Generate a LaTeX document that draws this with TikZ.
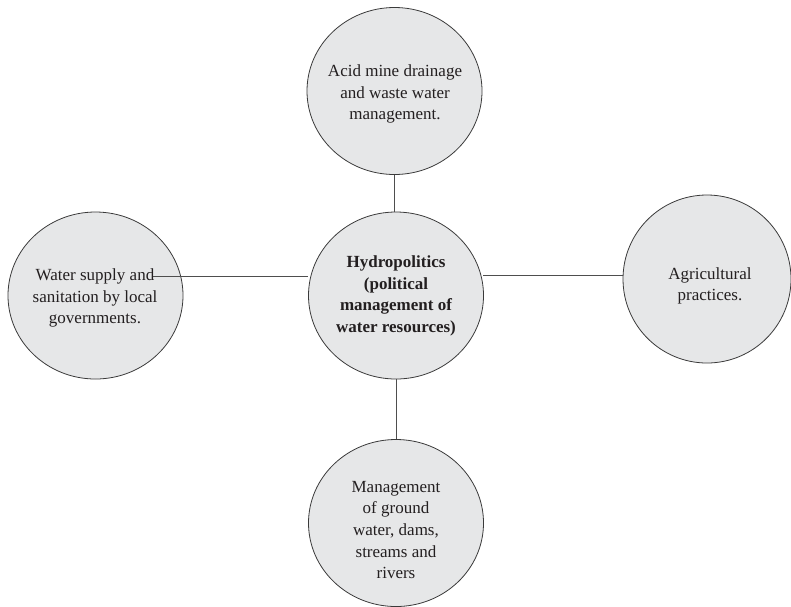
\documentclass[tikz,border=0pt]{standalone}
\usepackage{fontspec}
\setmainfont{Liberation Serif}
\usetikzlibrary{shapes.geometric}
\definecolor{bubble}{HTML}{E6E7E8}
\definecolor{rim}{HTML}{3A3A3A}
\definecolor{ink}{HTML}{231F20}
\tikzset{
  bubble/.style={ellipse, draw=rim, line width=0.8pt, fill=bubble, inner sep=0pt,
    minimum width=175pt, minimum height=167pt},
  txt/.style={text=ink, align=center, inner sep=0pt, font=\fontsize{17}{21.7}\selectfont},
  link/.style={draw=rim!90, line width=0.8pt}
}
\begin{document}
\begin{tikzpicture}[x=1pt,y=-1pt]
\useasboundingbox (0,0) rectangle (791,606);
\node[bubble] (t) at (394.5,91) {};
\node[bubble] (l) at (95.5,295.5) {};
\node[bubble] (c) at (396,295.5) {};
\node[bubble, minimum width=168pt, minimum height=168pt] (r) at (707,279) {};
\node[bubble] (b) at (396,523) {};

\node[txt] (tt) at (395,94) {Acid mine drainage\\and waste water\\management.};
\node[txt] (lt) at (95,298) {Water supply and\\sanitation by local\\governments.};
\node[txt, font=\fontsize{17}{21.7}\selectfont\bfseries] (ct) at (396,296) {Hydropolitics\\(political\\management of\\water resources)};
\node[txt] (rt) at (710,286) {Agricultural\\practices.};
\node[txt] (bt) at (396,530) {Management\\of ground\\water, dams,\\streams and\\rivers};

\coordinate (ls) at (153,276);
\coordinate (rs) at (483,275);
\draw[link] (ls) -- (ls -| c.west);
\draw[link] (rs) -- (rs -| r.west);
\draw[link] (t.south) -- (t.south |- c.north);
\draw[link] (c.south) -- (c.south |- b.north);
\end{tikzpicture}
\end{document}
